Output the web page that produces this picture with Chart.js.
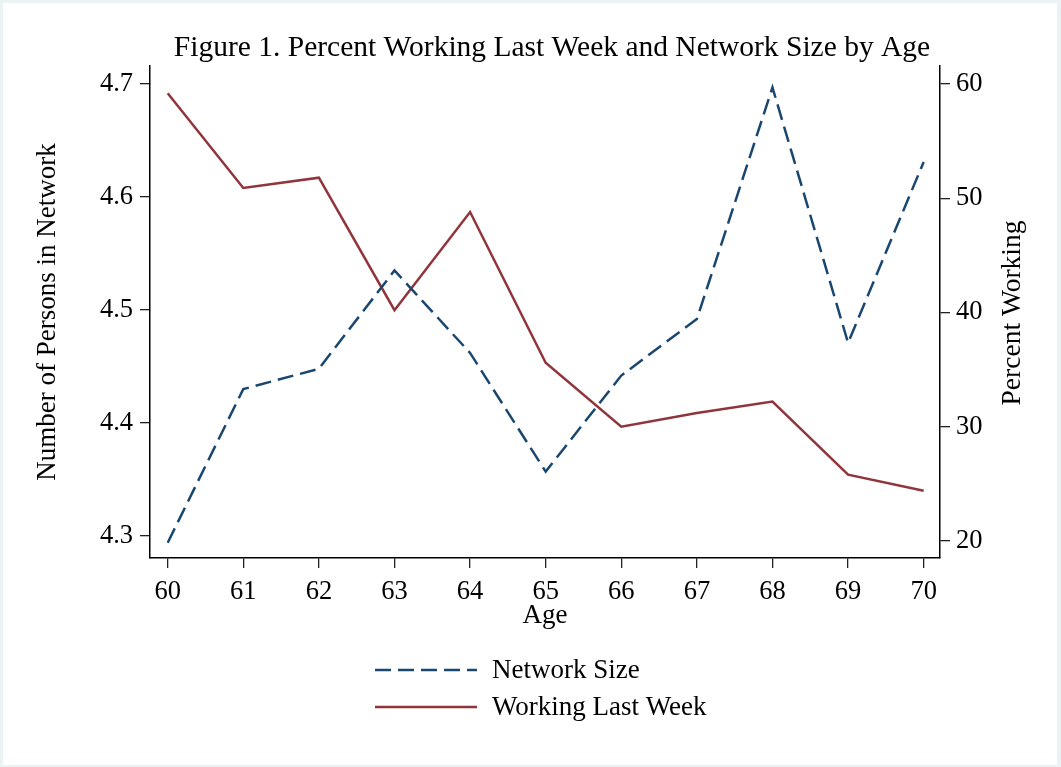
<!DOCTYPE html>
<html>
<head>
<meta charset="utf-8">
<script src="https://cdn.jsdelivr.net/npm/chart.js@4/dist/chart.umd.min.js"></script>
<style>
  html, body { margin: 0; padding: 0; background: #eaf2f3; }
  #wrap { position: absolute; left: 0; top: 0; width: 1061px; height: 767px; }
</style>
</head>
<body>
<div id="wrap"><canvas id="chart" width="1061" height="767"></canvas></div>
<script>
// datos
const ages = [60, 61, 62, 63, 64, 65, 66, 67, 68, 69, 70];
const networkSize = [4.294, 4.430, 4.448, 4.535, 4.462, 4.357, 4.442, 4.492, 4.697, 4.471, 4.631];
const workingLastWeek = [59.2, 50.9, 51.8, 40.2, 48.8, 35.6, 30.0, 31.2, 32.2, 25.8, 24.4];
const networkTicks = [4.3, 4.4, 4.5, 4.6, 4.7];
const percentTicks = [20, 30, 40, 50, 60];

const titleText = 'Figure 1. Percent Working Last Week and Network Size by Age';
const serif = 'Liberation Serif';
const navy = '#1a476f';
const maroon = '#90353b';

// fondo estilo Stata: borde claro y region blanca
const backgroundPlugin = {
    id: 'background',
    beforeDraw(chart) {
        const c = chart.ctx;
        c.save();
        c.fillStyle = '#eaf2f3';
        c.fillRect(0, 0, chart.width, chart.height);
        c.fillStyle = '#ffffff';
        c.fillRect(3, 3, chart.width - 7, chart.height - 5);
        c.restore();
    }
};

// titulo, titulo del eje derecho (de abajo hacia arriba) y leyenda vertical
const extrasPlugin = {
    id: 'extras',
    afterDraw(chart) {
        const c = chart.ctx;
        c.save();
        c.fillStyle = '#000';
        c.font = '29.5px "' + serif + '"';
        c.textAlign = 'center';
        c.textBaseline = 'middle';
        c.fillText(titleText, 552, 48);
        c.restore();

        c.save();
        c.fillStyle = '#000';
        c.font = '27.5px "' + serif + '"';
        c.textAlign = 'center';
        c.textBaseline = 'middle';
        c.translate(1013, 313);
        c.rotate(-Math.PI / 2);
        c.fillText('Percent Working', 0, 0);
        c.restore();

        c.save();
        chart.data.datasets.forEach((ds, i) => {
            const y = 670 + i * 37;
            c.strokeStyle = ds.borderColor;
            c.lineWidth = 2.5;
            c.setLineDash(ds.borderDash || []);
            c.beginPath();
            c.moveTo(375, y);
            c.lineTo(477, y);
            c.stroke();
            c.setLineDash([]);
            c.fillStyle = '#000';
            c.font = '27px "' + serif + '"';
            c.textAlign = 'left';
            c.textBaseline = 'middle';
            c.fillText(ds.label, 492, y + 1);
        });
        c.restore();
    }
};

function fixedTicks(list) {
    return function(scale) {
        scale.ticks = list.map(v => ({ value: v }));
    };
}

const axisGrid = {
    display: true,
    drawOnChartArea: false,
    drawTicks: true,
    tickLength: 10,
    color: '#222',
    lineWidth: 1.3
};

const chart = new Chart(document.getElementById('chart').getContext('2d'), {
    type: 'line',
    data: {
        datasets: [{
            label: 'Network Size',
            data: ages.map((a, i) => ({ x: a, y: networkSize[i] })),
            yAxisID: 'yLeft',
            borderColor: navy,
            borderWidth: 2.5,
            borderDash: [16, 7],
            pointRadius: 0,
            tension: 0,
            fill: false
        }, {
            label: 'Working Last Week',
            data: ages.map((a, i) => ({ x: a, y: workingLastWeek[i] })),
            yAxisID: 'yRight',
            borderColor: maroon,
            borderWidth: 2.5,
            pointRadius: 0,
            tension: 0,
            fill: false
        }]
    },
    options: {
        responsive: false,
        animation: false,
        layout: { padding: { left: 0, right: 0, top: 66, bottom: 100 } },
        plugins: {
            legend: { display: false },
            tooltip: { enabled: false },
            title: { display: false }
        },
        scales: {
            x: {
                type: 'linear',
                position: 'bottom',
                min: 59.766,
                max: 70.216,
                afterBuildTicks: fixedTicks(ages),
                afterFit(scale) { scale.height = 109; },
                grid: axisGrid,
                border: { display: true, color: '#000', width: 1.5 },
                ticks: {
                    color: '#000',
                    font: { family: serif, size: 26.5 },
                    padding: 8,
                    maxRotation: 0,
                    autoSkip: false
                },
                title: {
                    display: true,
                    text: 'Age',
                    color: '#000',
                    font: { family: serif, size: 27 },
                    padding: { top: 0, bottom: 35 }
                }
            },
            yLeft: {
                type: 'linear',
                position: 'left',
                min: 4.2805,
                max: 4.716,
                afterBuildTicks: fixedTicks(networkTicks),
                afterFit(scale) { scale.width = 150; },
                grid: axisGrid,
                border: { display: true, color: '#000', width: 1.5 },
                ticks: {
                    color: '#000',
                    font: { family: serif, size: 26.5 },
                    padding: 7,
                    callback: v => v.toFixed(1)
                },
                title: {
                    display: true,
                    text: 'Number of Persons in Network',
                    color: '#000',
                    font: { family: serif, size: 27 },
                    padding: { top: 32, bottom: 0 }
                }
            },
            yRight: {
                type: 'linear',
                position: 'right',
                min: 18.51,
                max: 61.58,
                afterBuildTicks: fixedTicks(percentTicks),
                afterFit(scale) { scale.width = 121; },
                grid: axisGrid,
                border: { display: true, color: '#000', width: 1.5 },
                ticks: {
                    color: '#000',
                    font: { family: serif, size: 26.5 },
                    padding: 6
                }
            }
        }
    },
    plugins: [backgroundPlugin, extrasPlugin]
});
</script>
</body>
</html>
